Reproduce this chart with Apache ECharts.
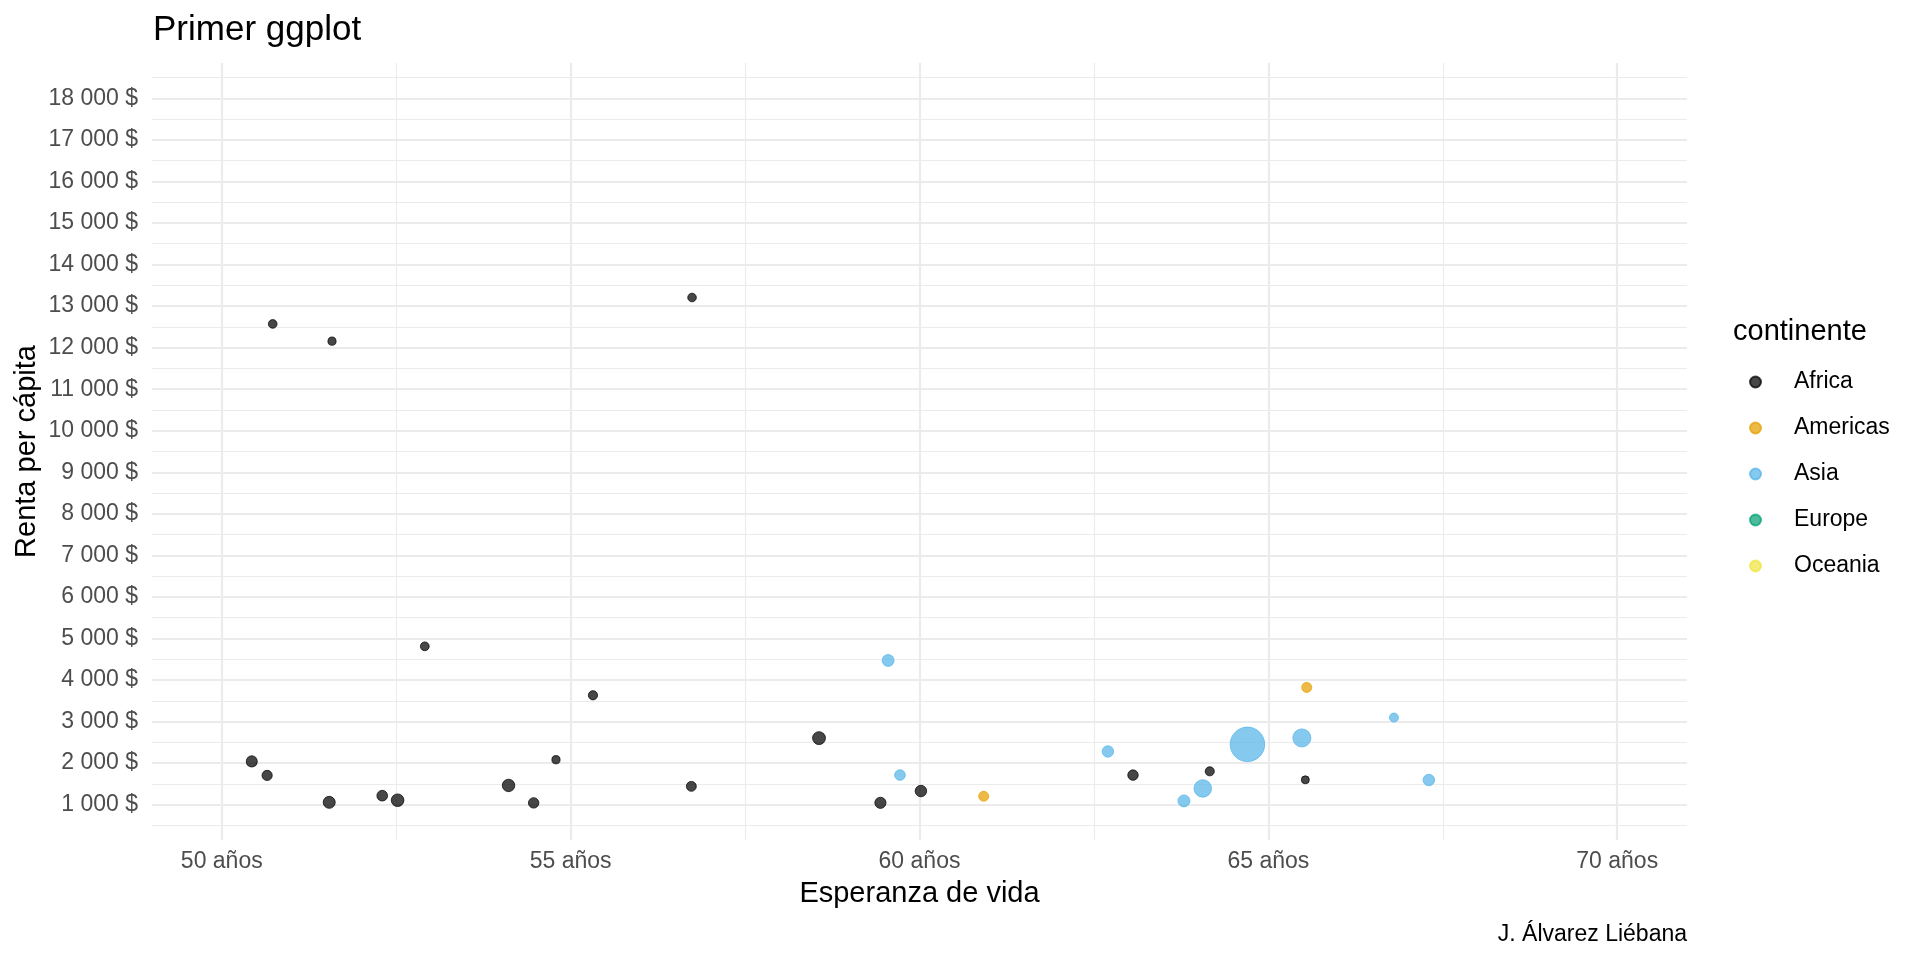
<!DOCTYPE html>
<html>
<head>
<meta charset="utf-8">
<script src="https://cdn.jsdelivr.net/npm/echarts@6/dist/echarts.min.js"></script>
<style>html,body{margin:0;padding:0;background:#fff}#c{width:1920px;height:960px}</style>
</head>
<body>
<div id="c"></div>
<script>
// ---- data ----
const continents = ['Africa', 'Americas', 'Asia', 'Europe', 'Oceania'];

const africaLifeExp = [50.73, 51.58, 56.74, 52.91, 55.32, 54.79, 50.43, 50.65, 51.54, 52.30, 52.52, 54.11, 54.47, 56.73, 58.56, 59.44, 60.02, 63.06, 64.16, 65.53];
const africaGdp     = [12570, 12154, 13206, 4811, 3633, 2082, 2042, 1704, 1056, 1217, 1107, 1463, 1043, 1441, 2602, 1045, 1328, 1712, 1803, 1598];
const africaPop     = [1.64, 0.55, 1.45, 2.06, 3.80, 0.50, 17.70, 10.24, 29.17, 14.33, 38.14, 35.61, 12.03, 8.08, 42.29, 19.17, 22.87, 12.27, 3.27, 0.20];

const americasLifeExp = [60.92, 65.55];
const americasGdp     = [1202, 3822];
const americasPop     = [8.50, 9.12];

const asiaLifeExp = [59.55, 59.72, 62.70, 63.79, 64.06, 64.70, 65.48, 66.80, 67.30];
const asiaGdp     = [4471, 1714, 2281, 1091, 1391, 2452, 2606, 3096, 1593];
const asiaPop     = [27.50, 14.13, 22.21, 28.90, 150.45, 1110.40, 169.27, 2.87, 23.30];

const europeLifeExp = [], europeGdp = [], europePop = [];
const oceaniaLifeExp = [], oceaniaGdp = [], oceaniaPop = [];

const xTicks = [50, 55, 60, 65, 70];
const xMinor = [52.5, 57.5, 62.5, 67.5];
const yTicks = [1000, 2000, 3000, 4000, 5000, 6000, 7000, 8000, 9000, 10000, 11000, 12000, 13000, 14000, 15000, 16000, 17000, 18000];
const yMinor = [500, 1500, 2500, 3500, 4500, 5500, 6500, 7500, 8500, 9500, 10500, 11500, 12500, 13500, 14500, 15500, 16500, 17500, 18500];

// ---- styling ----
const FONT = 'Liberation Sans, Arial, Helvetica, sans-serif';
const colors = {
  Africa: 'rgba(0,0,0,0.72)',
  Americas: 'rgba(230,159,0,0.72)',
  Asia: 'rgba(86,180,233,0.72)',
  Europe: 'rgba(0,158,115,0.70)',
  Oceania: 'rgba(240,228,66,0.72)'
};

const groups = {
  Africa: [africaLifeExp, africaGdp, africaPop],
  Americas: [americasLifeExp, americasGdp, americasPop],
  Asia: [asiaLifeExp, asiaGdp, asiaPop],
  Europe: [europeLifeExp, europeGdp, europePop],
  Oceania: [oceaniaLifeExp, oceaniaGdp, oceaniaPop]
};

const allPop = [].concat(africaPop, americasPop, asiaPop, europePop, oceaniaPop);
const sMin = Math.sqrt(Math.min.apply(null, allPop));
const sMax = Math.sqrt(Math.max.apply(null, allPop));
function sizeOf(v) {
  const f = (Math.sqrt(v[2]) - sMin) / (sMax - sMin);
  return 8 + 26.5 * f;
}

const GRID = '#EBEBEB';
const gridLines = []
  .concat(yMinor.map(v => ({ yAxis: v, lineStyle: { color: GRID, width: 1.1, type: 'solid' } })))
  .concat(xMinor.map(v => ({ xAxis: v, lineStyle: { color: GRID, width: 1.1, type: 'solid' } })))
  .concat(yTicks.map(v => ({ yAxis: v, lineStyle: { color: GRID, width: 2.2, type: 'solid' } })))
  .concat(xTicks.map(v => ({ xAxis: v, lineStyle: { color: GRID, width: 2.2, type: 'solid' } })));

const series = [{
  name: '__grid', type: 'scatter', data: [], silent: true, z: 1,
  markLine: {
    silent: true, z: 1, animation: false, symbol: ['none', 'none'],
    label: { show: false }, emphasis: { disabled: true },
    data: gridLines
  }
}];

continents.forEach(c => {
  const g = groups[c];
  const data = g[0].map((x, i) => [x, g[1][i], g[2][i]]);
  series.push({
    name: c, type: 'scatter', z: 10, data: data,
    symbol: 'circle', symbolSize: sizeOf,
    itemStyle: { color: colors[c], borderColor: colors[c], borderWidth: 1, opacity: 1 },
    emphasis: { disabled: true }
  });
});

function fmtMoney(v) {
  const s = String(Math.round(v)).replace(/\B(?=(\d{3})+(?!\d))/g, ' ');
  return s + ' $';
}

const chart = echarts.init(document.getElementById('c'), null, { renderer: 'canvas' });
chart.setOption({
  animation: false,
  backgroundColor: '#ffffff',
  textStyle: { fontFamily: FONT },
  title: [
    { text: 'Primer ggplot', left: 153, top: 10, padding: 0,
      textStyle: { fontFamily: FONT, fontSize: 35, fontWeight: 'normal', color: '#000', lineHeight: 40 } },
    { text: 'continente', left: 1733, top: 315, padding: 0,
      textStyle: { fontFamily: FONT, fontSize: 29, fontWeight: 'normal', color: '#000', lineHeight: 34 } },
    { text: 'J. Álvarez Liébana', right: 233, top: 921, padding: 0,
      textStyle: { fontFamily: FONT, fontSize: 23, fontWeight: 'normal', color: '#000', lineHeight: 28 } }
  ],
  legend: {
    data: continents, orient: 'vertical', left: 1749, top: 359, padding: 0,
    itemGap: 0, itemWidth: 11, itemHeight: 11, icon: 'circle',
    selectedMode: false,
    textStyle: { fontFamily: FONT, fontSize: 23, color: '#000', lineHeight: 46, padding: [0, 0, 0, 28] }
  },
  grid: { left: 152, right: 233, top: 63, bottom: 120, containLabel: false, outerBoundsMode: 'none' },
  xAxis: {
    type: 'value', min: 49, max: 71,
    axisLine: { show: false }, axisTick: { show: false }, splitLine: { show: false },
    axisLabel: {
      customValues: xTicks, formatter: v => v + ' años',
      color: '#4D4D4D', fontSize: 23, fontFamily: FONT, margin: 9, lineHeight: 26
    },
    name: 'Esperanza de vida', nameLocation: 'middle', nameGap: 37, nameMoveOverlap: false,
    nameTextStyle: { fontFamily: FONT, fontSize: 29, color: '#000', lineHeight: 34 }
  },
  yAxis: {
    type: 'value', min: 150, max: 18850,
    axisLine: { show: false }, axisTick: { show: false }, splitLine: { show: false },
    axisLabel: {
      customValues: yTicks, formatter: fmtMoney,
      color: '#4D4D4D', fontSize: 23, fontFamily: FONT, margin: 14
    },
    name: 'Renta per cápita', nameLocation: 'middle', nameGap: 108, nameMoveOverlap: false,
    nameTextStyle: { fontFamily: FONT, fontSize: 29, color: '#000', lineHeight: 34 }
  },
  series: series
});
</script>
</body>
</html>
